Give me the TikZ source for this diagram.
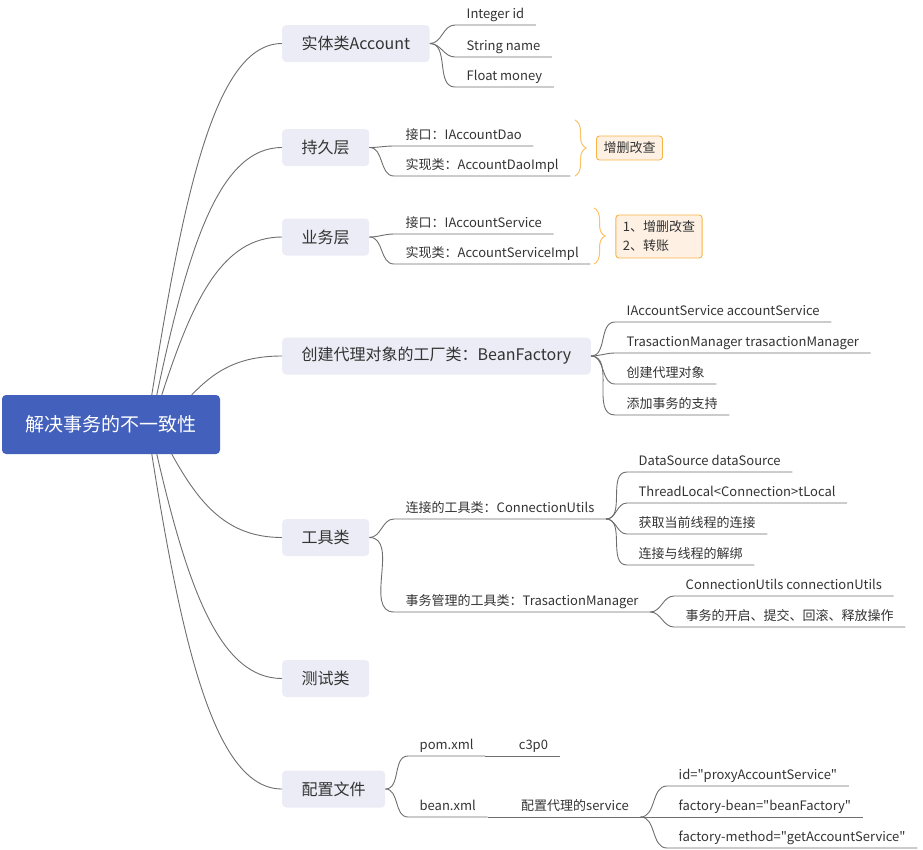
\documentclass[tikz,border=0pt]{standalone}
\usepackage{fontspec}
\setmainfont{Noto Sans CJK SC}[Ligatures=TeXOff]
\usetikzlibrary{positioning, decorations.pathreplacing}
\definecolor{rootblue}{RGB}{66,96,188}
\definecolor{topicfill}{RGB}{235,236,245}
\definecolor{linegray}{RGB}{110,110,110}
\definecolor{txt}{RGB}{51,51,51}
\definecolor{notefill}{RGB}{254,241,228}
\definecolor{noteline}{RGB}{247,180,70}
\definecolor{bracecol}{RGB}{250,195,100}

\begin{document}
\begin{tikzpicture}[x=1pt, y=-1pt,
  link/.style={draw=linegray, line width=0.9pt},
  rootbox/.style={fill=rootblue, rounded corners=4pt, minimum width=218pt, minimum height=59pt, font=\fontsize{19}{22}\selectfont, text=white},
  topic/.style={fill=topicfill, rounded corners=4pt, minimum height=37pt, inner xsep=19.5pt, font=\fontsize{16}{19}\selectfont, text=txt, anchor=west},
  leaf/.style={font=\fontsize{13}{16}\selectfont, text=txt, inner xsep=11.5pt, inner ysep=3pt, text height=10pt, text depth=3pt, anchor=south west},
  note/.style={fill=notefill, draw=noteline, line width=0.9pt, rounded corners=3pt, inner xsep=7pt, inner ysep=6pt, font=\fontsize{13}{19}\selectfont, text=txt, align=left},
  brc/.style={draw=bracecol, line width=1pt, decorate, decoration={brace, amplitude=11pt}}]
\useasboundingbox (0,0) rectangle (923,849);
% centre topic and main branches
\node[rootbox] (root) at (111,424.5) {解决事务的不一致性};
\node[topic] (acc) at (282,43.5) {实体类Account};
\node[topic] (dao) at (282,147.5) {持久层};
\node[topic] (svc) at (282,237) {业务层};
\node[topic] (bean) at (282,356) {创建代理对象的工厂类：BeanFactory};
\node[topic] (tool) at (282,537.5) {工具类};
\node[topic] (test) at (282,678.5) {测试类};
\node[topic] (conf) at (282,789) {配置文件};
\draw[link] ([xshift=150pt]root.north west) to[out=81, in=180, out distance=213pt, in distance=65pt] (acc.west);
\draw[link] ([xshift=155pt]root.north west) to[out=78, in=180, out distance=151pt, in distance=63pt] (dao.west);
\draw[link] ([xshift=160pt]root.north west) to[out=72, in=180, out distance=100pt, in distance=60pt] (svc.west);
\draw[link] ([xshift=190pt]root.north west) to[out=46, in=180, out distance=32pt, in distance=45pt] (bean.west);
\draw[link] ([xshift=170pt]root.south west) to[out=-61, in=180, out distance=57pt, in distance=55pt] (tool.west);
\draw[link] ([xshift=155pt]root.south west) to[out=-77, in=180, out distance=138pt, in distance=62pt] (test.west);
\draw[link] ([xshift=150pt]root.south west) to[out=-81, in=180, out distance=204pt, in distance=65pt] (conf.west);
% entity fields
\node[leaf] (a1) at (455,25) {Integer id};
\node[leaf] (a2) at (455,57) {String name};
\node[leaf] (a3) at (455,87) {Float money};
\foreach \n in {a1,a2,a3}
  \draw[link] (acc.east) to[out=0, in=180] (\n.south west) -- (\n.south east);
% dao and service layers, each with a brace and a note
\node[leaf] (d1) at (394,146) {接口：IAccountDao};
\node[leaf] (d2) at (394,176) {实现类：AccountDaoImpl};
\foreach \n in {d1,d2}
  \draw[link] (dao.east) to[out=0, in=180] (\n.south west) -- (\n.south east);
\draw[brc] (575,120) -- (575,176);
\node[note] (n1) at (629.5,148) {增删改查};
\node[leaf] (s1) at (394,234) {接口：IAccountService};
\node[leaf] (s2) at (394,264) {实现类：AccountServiceImpl};
\foreach \n in {s1,s2}
  \draw[link] (svc.east) to[out=0, in=180] (\n.south west) -- (\n.south east);
\draw[brc] (594,208) -- (594,264);
\node[note] (n2) at (659,236.5) {1、增删改查\\2、转账};
% bean factory
\node[leaf] (b1) at (615,322) {IAccountService accountService};
\node[leaf] (b2) at (615,353) {TrasactionManager trasactionManager};
\node[leaf] (b3) at (615,384) {创建代理对象};
\node[leaf] (b4) at (615,415) {添加事务的支持};
\foreach \n in {b1,b2,b3,b4}
  \draw[link] (bean.east) to[out=0, in=180] (\n.south west) -- (\n.south east);
% utility classes
\node[leaf] (t1) at (394,519) {连接的工具类：ConnectionUtils};
\node[leaf] (t2) at (394,612) {事务管理的工具类：TrasactionManager};
\foreach \n in {t1,t2}
  \draw[link] (tool.east) to[out=0, in=180] (\n.south west) -- (\n.south east);
\node[leaf] (c1) at (627,472) {DataSource dataSource};
\node[leaf] (c2) at (627,503) {ThreadLocal<Connection>tLocal};
\node[leaf] (c3) at (627,534) {获取当前线程的连接};
\node[leaf] (c4) at (627,565) {连接与线程的解绑};
\foreach \n in {c1,c2,c3,c4}
  \draw[link] (t1.south east) to[out=0, in=180] (\n.south west) -- (\n.south east);
\node[leaf] (m1) at (674,596) {ConnectionUtils connectionUtils};
\node[leaf] (m2) at (674,627) {事务的开启、提交、回滚、释放操作};
\foreach \n in {m1,m2}
  \draw[link] (t2.south east) to[out=0, in=180] (\n.south west) -- (\n.south east);
% config files
\node[leaf] (p1) at (408,756) {pom.xml};
\node[leaf] (p2) at (408,817) {bean.xml};
\foreach \n in {p1,p2}
  \draw[link] (conf.east) to[out=0, in=180] (\n.south west) -- (\n.south east);
\node[leaf, right=22pt of p1.south east, anchor=south west] (q1) {c3p0};
\node[leaf, right=22pt of p2.south east, anchor=south west] (r1) {配置代理的service};
\draw[link] (p1.south east) -- (q1.south west) -- (q1.south east);
\draw[link] (p2.south east) -- (r1.south west) -- (r1.south east);
\node[leaf] (e1) at (667,786) {id="proxyAccountService"};
\node[leaf] (e2) at (667,817) {factory-bean="beanFactory"};
\node[leaf] (e3) at (667,848) {factory-method="getAccountService"};
\foreach \n in {e1,e2,e3}
  \draw[link] (r1.south east) to[out=0, in=180] (\n.south west) -- (\n.south east);
\end{tikzpicture}
\end{document}
